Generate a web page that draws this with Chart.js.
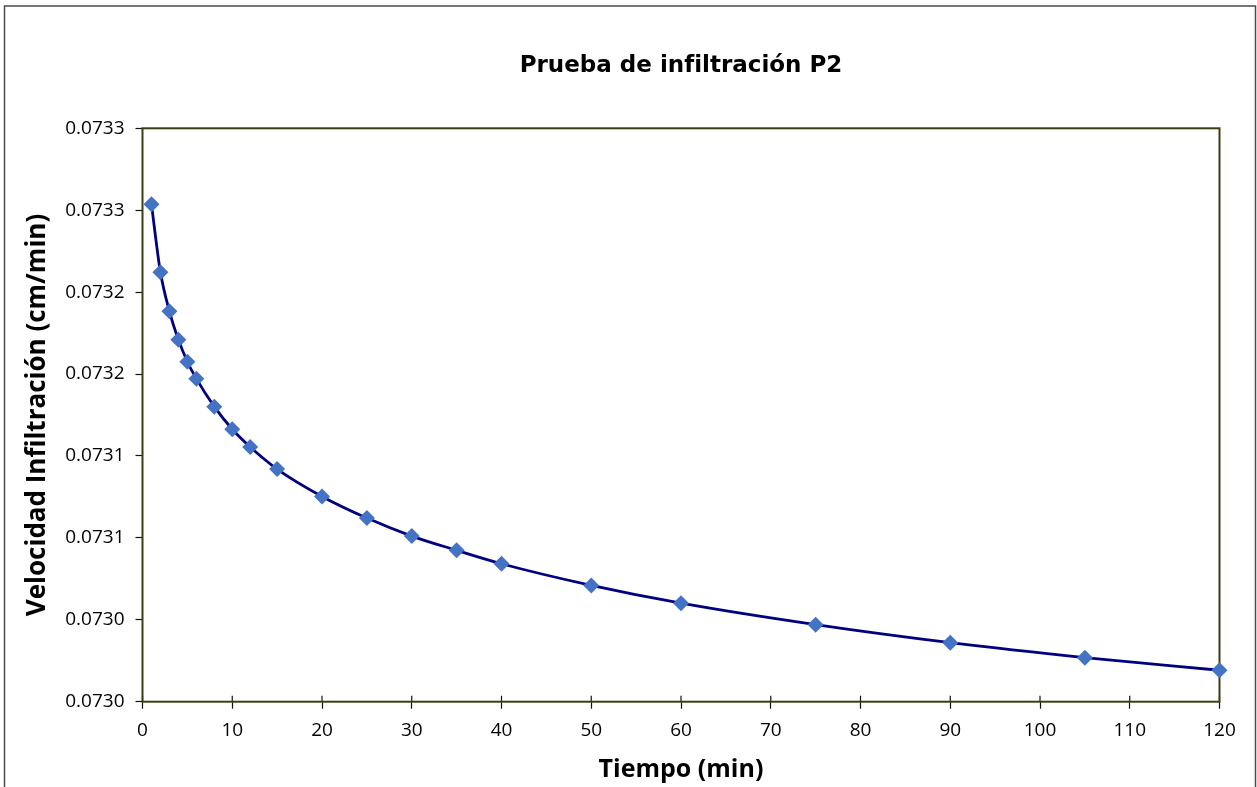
<!DOCTYPE html>
<html lang="es">
<head>
<meta charset="utf-8">
<title>Prueba de infiltración P2</title>
<script src="https://cdn.jsdelivr.net/npm/chart.js@4.4.1/dist/chart.umd.min.js"></script>
<style>
    html, body { margin: 0; padding: 0; background: #ffffff; }
    #wrap { width: 1257px; height: 787px; }
</style>
</head>
<body>
<div id="wrap"><canvas id="chart" width="1257" height="787"></canvas></div>
<script>
// Tiempo (min) and measured infiltration rate (cm/min)
const tiempo = [1, 2, 3, 4, 5, 6, 8, 10, 12, 15, 20, 25, 30, 35, 40, 50, 60, 75, 90, 105, 120];
const velocidad = [
    0.0732536, 0.0732121, 0.0731883, 0.0731710, 0.0731575, 0.0731472, 0.0731301,
    0.0731163, 0.0731055, 0.0730920, 0.0730753, 0.0730621, 0.0730511, 0.0730424,
    0.0730342, 0.0730210, 0.0730101, 0.0729970, 0.0729860, 0.0729769, 0.0729692
];

// Y axis ticks (bottom to top) and their printed labels (4 decimals, as in the sheet)
const yTickValues = [0.07295, 0.07300, 0.07305, 0.07310, 0.07315, 0.07320, 0.07325, 0.07330];
const yTickLabels = ['0.0730', '0.0730', '0.0731', '0.0731', '0.0732', '0.0732', '0.0733', '0.0733'];
const xTickStep = 10;

const COLORS = {
    line: '#000080',
    marker: '#4472c4',
    plotBorder: '#3d3d12',
    frame: '#4a4a4a',
    text: '#000000'
};

// Outer frame, plot-area border and the inner half of the x tick marks
const framePlugin = {
    id: 'frame',
    beforeDatasetsDraw(chart) {
        const { ctx, chartArea: a, scales } = chart;
        ctx.save();
        ctx.strokeStyle = COLORS.frame;
        ctx.lineWidth = 1.5;
        ctx.strokeRect(4.5, 6, 1251, 820);

        ctx.strokeStyle = '#111111';
        ctx.lineWidth = 1.2;
        scales.x.ticks.forEach(t => {
            const px = scales.x.getPixelForValue(t.value);
            ctx.beginPath();
            ctx.moveTo(px, a.bottom);
            ctx.lineTo(px, a.bottom - 6);
            ctx.stroke();
        });

        ctx.strokeStyle = COLORS.plotBorder;
        ctx.lineWidth = 2;
        ctx.strokeRect(a.left, a.top, a.right - a.left, a.bottom - a.top);
        ctx.restore();
    }
};

new Chart(document.getElementById('chart'), {
    type: 'scatter',
    data: {
        datasets: [{
            data: tiempo.map((t, i) => ({ x: t, y: velocidad[i] })),
            showLine: true,
            borderColor: COLORS.line,
            borderWidth: 2.8,
            cubicInterpolationMode: 'monotone',
            pointStyle: 'rectRot',
            pointRadius: 8,
            pointBackgroundColor: COLORS.marker,
            pointBorderColor: COLORS.marker,
            pointBorderWidth: 0,
            clip: false
        }]
    },
    options: {
        responsive: false,
        animation: false,
        layout: { padding: { left: 0, right: 37.5, top: 0, bottom: 0 } },
        plugins: {
            legend: { display: false },
            tooltip: { enabled: false },
            title: {
                display: true,
                text: 'Prueba de infiltración P2',
                fullSize: false,
                color: COLORS.text,
                font: { family: 'DejaVu Sans', size: 23, weight: 'bold', lineHeight: 1.2 },
                padding: { top: 52, bottom: 48.7 }
            }
        },
        scales: {
            x: {
                type: 'linear',
                min: 0,
                max: 120,
                ticks: {
                    stepSize: xTickStep,
                    color: COLORS.text,
                    font: { family: 'Open Sans', size: 19 },
                    padding: 10,
                    maxRotation: 0
                },
                grid: { drawOnChartArea: false, tickLength: 7, color: '#111111', tickWidth: 1.2 },
                border: { display: false },
                title: {
                    display: true,
                    text: 'Tiempo (min)',
                    color: COLORS.text,
                    font: { family: 'Open Sans', size: 25, weight: 'bold', lineHeight: 1.2 },
                    padding: { top: 4, bottom: 2 }
                },
                afterFit(scale) { scale.height = 85.3; }
            },
            y: {
                type: 'linear',
                min: yTickValues[0],
                max: yTickValues[yTickValues.length - 1],
                afterBuildTicks(scale) {
                    scale.ticks = yTickValues.map(v => ({ value: v }));
                },
                ticks: {
                    color: COLORS.text,
                    font: { family: 'Open Sans', size: 19 },
                    padding: 11,
                    callback: (value, index) => yTickLabels[index]
                },
                grid: { drawOnChartArea: false, tickLength: 7, color: '#111111', tickWidth: 1.2 },
                border: { display: false },
                title: {
                    display: true,
                    text: 'Velocidad Infiltración (cm/min)',
                    color: COLORS.text,
                    font: { family: 'Open Sans', size: 26, weight: 'bold', lineHeight: 1.2 },
                    padding: { top: 22, bottom: 0 }
                },
                afterFit(scale) { scale.width = 142.5; }
            }
        }
    },
    plugins: [framePlugin]
});
</script>
</body>
</html>
